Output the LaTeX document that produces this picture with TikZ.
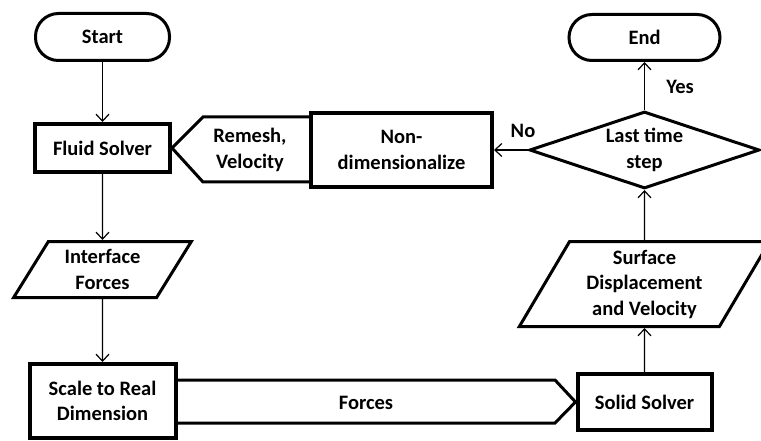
\documentclass[tikz,border=0pt]{standalone}
\usepackage{fontspec}
\setmainfont{Carlito}
\usetikzlibrary{shapes.geometric,arrows.meta}

\begin{document}
\begin{tikzpicture}[x=1pt,y=-1pt,
    font=\fontsize{20.5}{25.5}\selectfont\bfseries,
    terminal/.style={draw,line width=3pt,rounded corners=23pt,minimum height=47pt,inner sep=0pt},
    process/.style={draw,line width=4pt,inner sep=0pt,align=center},
    data/.style={draw,trapezium,trapezium stretches=true,line width=3pt,inner sep=0pt,align=center},
    decision/.style={draw,diamond,aspect=3,line width=3pt,inner sep=0pt,align=center},
    pent/.style={line width=3pt,line join=miter},
    link/.style={line width=1.2pt,-{Straight Barb[length=7pt,width=13pt]}}]
    \useasboundingbox (0,0) rectangle (761,441);
    %Start
    \node[terminal,minimum width=134pt] (start) at (102.5,37) {Start};
    %End
    \node[terminal,minimum width=151pt,minimum height=46pt] (stop) at (644.5,37.5) {End};
    %Fluid Solver
    \node[process,minimum width=135pt,minimum height=48pt] (fluid) at (102.5,148) {Fluid Solver};
    %Non-dimensionalize
    \node[process,minimum width=181pt,minimum height=74pt] (nondim) at (401.5,150) {Non-\\dimensionalize};
    %Last time step
    \node[decision,minimum width=230pt,minimum height=77pt] (last) at (644.5,150) {Last time\\step};
    %Interface Forces
    \node[data,trapezium left angle=58.6,trapezium right angle=121.4,minimum width=178pt,minimum height=56pt] (iface) at (102.5,269.5) {Interface\\Forces};
    %Scale to Real Dimension
    \node[process,minimum width=146pt,minimum height=74pt] (scale) at (102.5,401) {Scale to Real\\Dimension};
    %Solid Solver
    \node[process,minimum width=134pt,minimum height=56pt] (solid) at (644.5,402) {Solid Solver};
    %Surface Displacement
    \node[data,trapezium left angle=60.4,trapezium right angle=119.6,minimum width=251pt,minimum height=85pt] (surface) at (644.5,284) {Surface\\Displacement\\and Velocity};
    %Block arrows
    \draw[pent] (309,117) -- (203,117) -- (fluid.east) -- (203,182) -- (309,182);
    \node[align=center] (remesh) at (250,150) {Remesh,\\Velocity};
    \draw[pent] (177,380) -- (555,380) -- (solid.west) -- (555,423) -- (177,423);
    \node (forces) at (366,403) {Forces};
    %Arrows
    \draw[link] (start.south) -- (fluid.north);
    \draw[link] (fluid.south) -- (iface.north);
    \draw[link] (iface.south) -- (scale.north);
    \draw[link] (solid.north) -- (surface.south);
    \draw[link] (surface.north) -- (last.south);
    \draw[link] (last.north) -- (stop.south);
    \draw[link] (last.west) -- (nondim.east);
    \node (yes) at (680,87) {Yes};
    \node (no) at (523,131) {No};
\end{tikzpicture}
\end{document}
